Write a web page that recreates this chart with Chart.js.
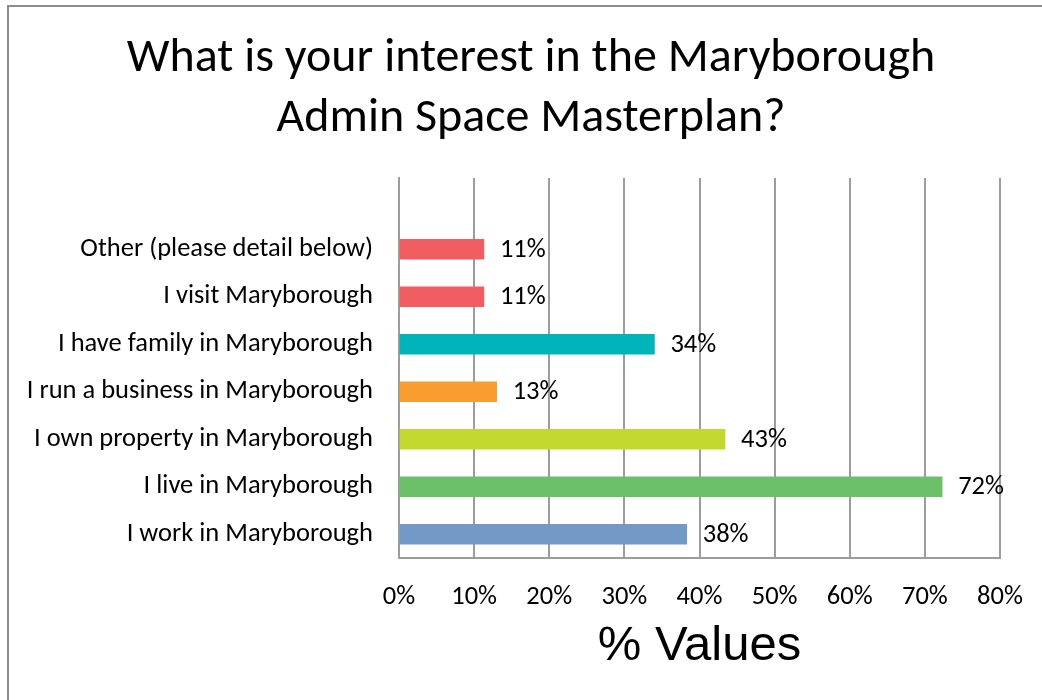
<!DOCTYPE html>
<html>
<head>
<meta charset="utf-8">
<script src="https://cdn.jsdelivr.net/npm/chart.js@4"></script>
<style>
  body { margin: 0; background: #fff; overflow: hidden; }
  #frame { position: absolute; left: 7px; top: 5px; width: 1100px; height: 800px; border: 2px solid #8c8c8c; }
  #chart { position: absolute; left: 0; top: 0; }
</style>
</head>
<body>
<div id="frame"></div>
<canvas id="chart" width="1042" height="700"></canvas>
<script>
// Datos del gráfico (de arriba hacia abajo)
var categories = [
  "Other (please detail below)",
  "I visit Maryborough",
  "I have family in Maryborough",
  "I run a business in Maryborough",
  "I own property in Maryborough",
  "I live in Maryborough",
  "I work in Maryborough"
];
var values = [11.3, 11.3, 34.0, 13.0, 43.4, 72.3, 38.3];
var barColors = ["#F15D60", "#F15D60", "#00B4B9", "#F99D31", "#C3D92F", "#6CC069", "#7399C6"];
var xTicks = [0, 10, 20, 30, 40, 50, 60, 70, 80];

var textFont = "Carlito, 'Open Sans', sans-serif";

// Fila vacía arriba, como en el original
var labels = [""].concat(categories);
var data = [null].concat(values);
var colors = ["rgba(0,0,0,0)"].concat(barColors);

// Etiquetas de valor al final de cada barra
var valueLabels = {
  id: "valueLabels",
  afterDatasetsDraw: function(chart) {
    var ctx = chart.ctx;
    var meta = chart.getDatasetMeta(0);
    ctx.save();
    ctx.font = "26.5px " + textFont;
    ctx.fillStyle = "#000";
    ctx.textBaseline = "middle";
    ctx.textAlign = "left";
    meta.data.forEach(function(bar, i) {
      var v = data[i];
      if (v === null) return;
      ctx.fillText(Math.round(v) + "%", bar.x + 16, bar.y + 1);
    });
    ctx.restore();
  }
};

var ctx = document.getElementById("chart").getContext("2d");
var chart = new Chart(ctx, {
  type: "bar",
  data: {
    labels: labels,
    datasets: [{
      data: data,
      backgroundColor: colors,
      barThickness: 20
    }]
  },
  plugins: [valueLabels],
  options: {
    indexAxis: "y",
    responsive: false,
    animation: false,
    layout: { padding: { left: 20, right: 0, top: 0, bottom: 0 } },
    plugins: {
      legend: { display: false },
      tooltip: { enabled: false },
      title: {
        display: true,
        text: ["What is your interest in the Maryborough", "Admin Space Masterplan?"],
        color: "#000",
        font: { family: textFont, size: 48, weight: "normal", lineHeight: 1.25 },
        padding: { top: 29, bottom: 29 }
      }
    },
    scales: {
      x: {
        min: 0,
        max: 80,
        afterBuildTicks: function(scale) {
          scale.ticks = xTicks.map(function(v) { return { value: v }; });
        },
        afterFit: function(scale) {
          scale.height = 142;
          scale.paddingRight = 42;
        },
        grid: { color: "#9c9c9c", lineWidth: 2, drawTicks: false },
        border: { color: "#9c9c9c", width: 2 },
        ticks: {
          color: "#000",
          padding: 23,
          font: { family: textFont, size: 26.5 },
          callback: function(v) { return v + "%"; }
        },
        title: {
          display: true,
          text: "% Values",
          color: "#000",
          font: { family: "'Liberation Sans', Arial, sans-serif", size: 49 },
          padding: { top: 0, bottom: 24 }
        }
      },
      y: {
        afterFit: function(scale) { scale.width = 379; },
        grid: { display: false, drawTicks: false },
        border: { color: "#9c9c9c", width: 2 },
        ticks: {
          color: "#000",
          padding: 26,
          font: { family: textFont, size: 26.5 }
        }
      }
    }
  }
});
</script>
</body>
</html>
